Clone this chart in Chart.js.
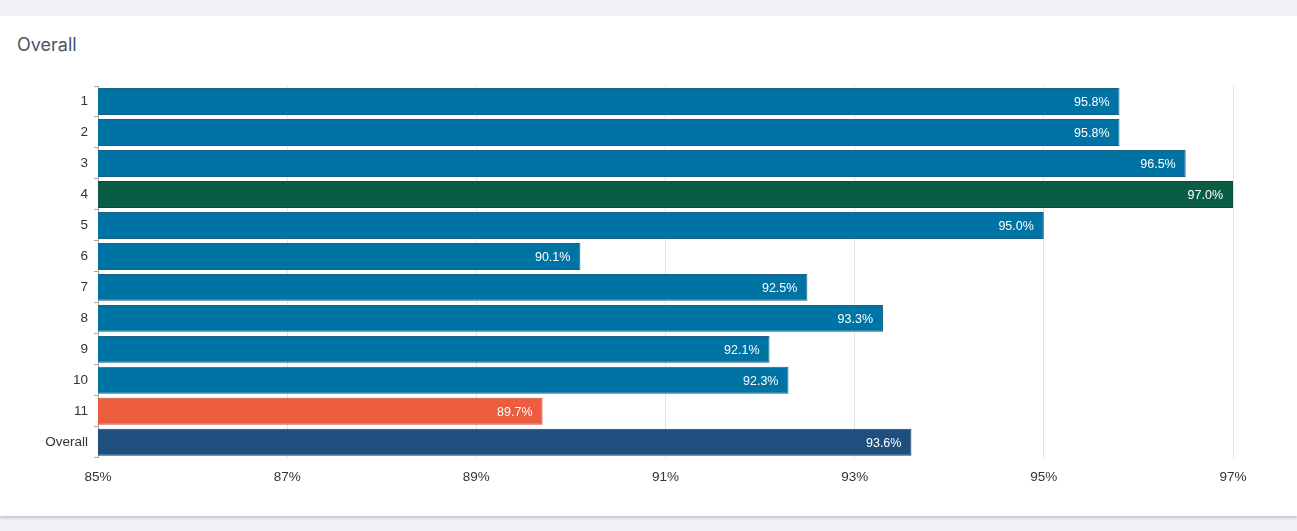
<!DOCTYPE html>
<html>
<head>
<meta charset="utf-8">
<script src="https://cdn.jsdelivr.net/npm/chart.js@4"></script>
<style>
  html, body { margin: 0; padding: 0; background: #f0f1f5; }
  .card {
    position: absolute; left: 0; top: 16px; width: 1297px; height: 500px;
    background: #fff; box-shadow: 0 2px 3px rgba(0,0,0,0.18);
  }
  .card h3 {
    position: absolute; left: 17px; top: 18px; margin: 0;
    font: 400 18px Inter, "Open Sans", sans-serif; color: #4a5568;
  }
  .wrap { position: absolute; left: 0; top: 54px; width: 1297px; height: 426px; }
</style>
</head>
<body>
<div class="card">
  <h3>Overall</h3>
  <div class="wrap"><canvas id="chart"></canvas></div>
</div>
<script>
const categories = ['1', '2', '3', '4', '5', '6', '7', '8', '9', '10', '11', 'Overall'];
const values = [95.8, 95.8, 96.5, 97.0, 95.0, 90.1, 92.5, 93.3, 92.1, 92.3, 89.7, 93.6];
const xTicks = [85, 87, 89, 91, 93, 95, 97];

// bar colours: highest green, lowest orange, overall navy, rest blue
const fills = ['#0073a5', '#0073a5', '#0073a5', '#0b5c45', '#0073a5', '#0073a5',
  '#0073a5', '#0073a5', '#0073a5', '#0073a5', '#ec5c3e', '#1e4f7e'];
const borders = ['#1b6187', '#1b6187', '#1b6187', '#0d4a38', '#1b6187', '#1b6187',
  '#1b6187', '#1b6187', '#1b6187', '#1b6187', '#c94e33', '#163e64'];

const barLabels = {
  id: 'barLabels',
  afterDatasetsDraw(chart) {
    const ctx = chart.ctx;
    const meta = chart.getDatasetMeta(0);
    ctx.save();
    ctx.font = '12.5px "Liberation Sans", Arial, sans-serif';
    ctx.fillStyle = '#ffffff';
    ctx.textAlign = 'right';
    ctx.textBaseline = 'middle';
    meta.data.forEach(function (bar, i) {
      ctx.fillText(values[i].toFixed(1) + '%', bar.x - 10, bar.y + 1);
    });
    ctx.restore();
  }
};

Chart.defaults.font.family = '"Liberation Sans", Arial, sans-serif';
Chart.defaults.font.size = 13.5;
Chart.defaults.color = '#333';

new Chart(document.getElementById('chart'), {
  type: 'bar',
  data: {
    labels: categories,
    datasets: [{
      data: values,
      backgroundColor: fills,
      borderColor: borders,
      borderWidth: 1,
      barPercentage: 0.87,
      categoryPercentage: 1
    }]
  },
  options: {
    indexAxis: 'y',
    responsive: true,
    maintainAspectRatio: false,
    animation: false,
    layout: { padding: { top: 16, right: 64, bottom: 0, left: 0 } },
    plugins: { legend: { display: false }, tooltip: { enabled: false } },
    scales: {
      x: {
        min: 85,
        max: 97,
        afterBuildTicks(axis) { axis.ticks = xTicks.map(v => ({ value: v })); },
        ticks: { padding: 11, callback: v => v + '%' },
        grid: { color: '#e4e4e4', drawTicks: false },
        border: { display: false }
      },
      y: {
        afterFit(axis) { axis.width = 98; },
        ticks: { padding: 6 },
        grid: { offset: true, drawOnChartArea: false, tickLength: 4, color: '#aaa' },
        border: { display: true, color: '#aaa' }
      }
    }
  },
  plugins: [barLabels]
});
</script>
</body>
</html>
